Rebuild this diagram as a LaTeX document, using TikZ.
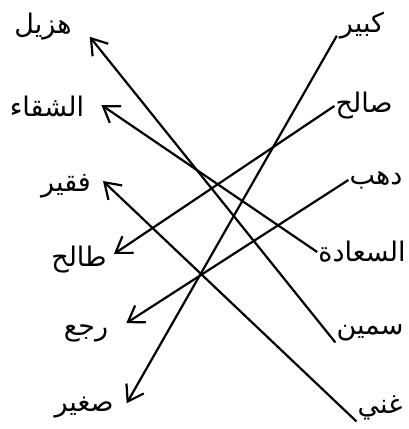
\documentclass[tikz,border=0pt]{standalone}
\usepackage{fontspec}
\newfontfamily\arabicfont[Script=Arabic]{DejaVu Sans}
\TeXXeTstate=1
\usepackage{tikz}
\usetikzlibrary{arrows.meta}

\begin{document}
\begin{tikzpicture}[
  x=1pt, y=-1pt,
  word/.style={font=\arabicfont\fontsize{27}{30}\selectfont, inner sep=1pt},
  link/.style={-{Straight Barb[length=15pt, width=20pt]}, line width=2.2pt}
]
  \useasboundingbox (0,0) rectangle (408,429);

  % left column
  \node[word] (hazil)   at (43,27)  {\beginR هزيل\endR};
  \node[word] (shaqaa)  at (47,106) {\beginR الشقاء\endR};
  \node[word] (faqir)   at (66,186) {\beginR فقير\endR};
  \node[word] (talih)   at (79,260) {\beginR طالح\endR};
  \node[word] (rajaa)   at (86,333) {\beginR رجع\endR};
  \node[word] (saghir)  at (84,408) {\beginR صغير\endR};

  % right column
  \node[word] (kabir)   at (362,26)  {\beginR كبير\endR};
  \node[word] (salih)   at (364,106) {\beginR صالح\endR};
  \node[word] (dhahab)  at (376,180) {\beginR دهب\endR};
  \node[word] (saada)   at (362,252) {\beginR السعادة\endR};
  \node[word] (samin)   at (370,333) {\beginR سمين\endR};
  \node[word] (ghani)   at (380,408) {\beginR غني\endR};

  \draw[link] ([xshift=-2pt, yshift=5pt]kabir.south west) -- ([xshift=12pt, yshift=-7pt]saghir.north east);
  \draw[link] (salih.west)        -- ([xshift=6pt, yshift=6pt]talih.east);
  \draw[link] (dhahab.west)       -- ([xshift=17pt]rajaa.north east);
  \draw[link] (saada.west)        -- ([xshift=16pt, yshift=1pt]shaqaa.east);
  \draw[link] (samin.south west)  -- ([xshift=17pt, yshift=5pt]hazil.south east);
  \draw[link] (ghani.south west)  -- ([xshift=11pt, yshift=5pt]faqir.east);
\end{tikzpicture}
\end{document}
